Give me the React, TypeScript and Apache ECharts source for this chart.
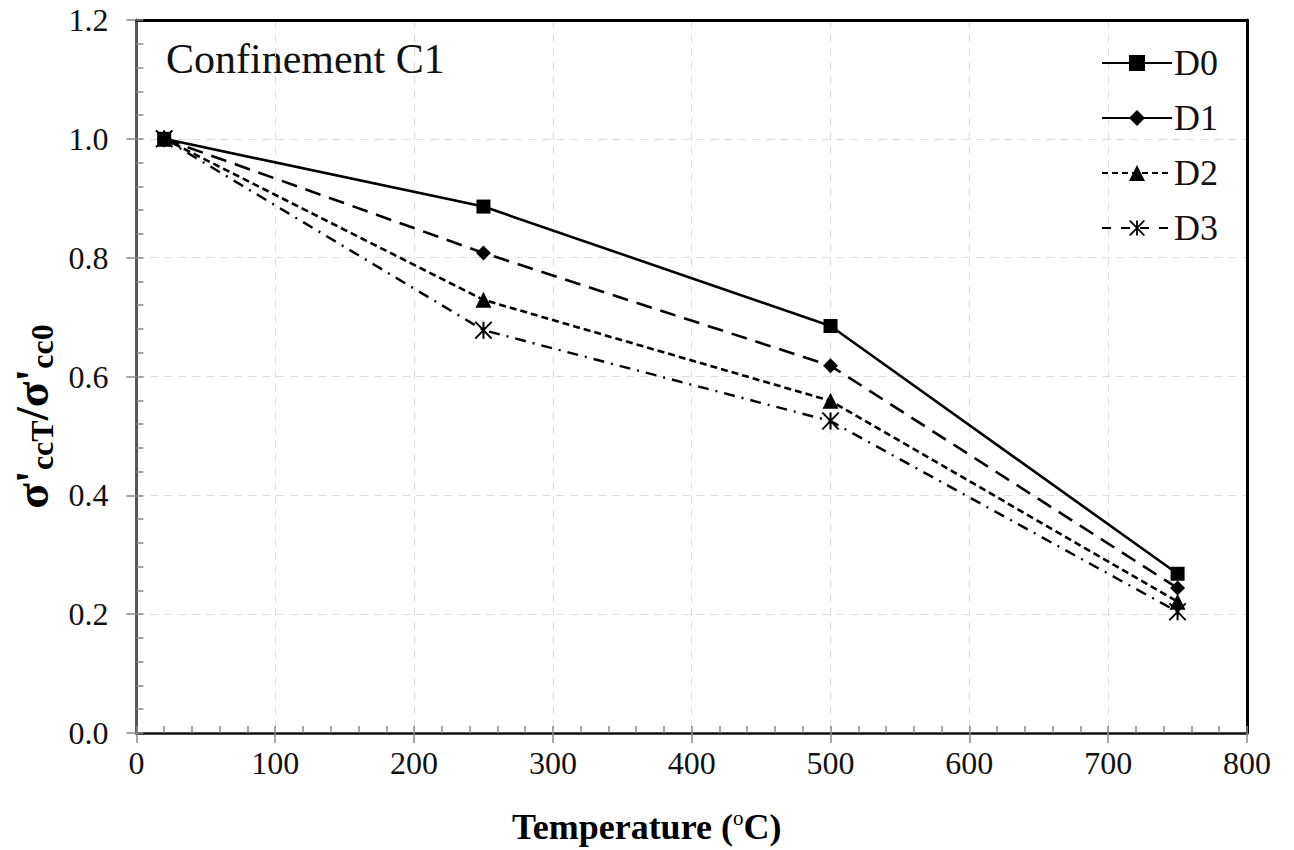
import React, { useEffect, useRef } from "react";
import * as echarts from "echarts";

const temps = [20, 250, 500, 750];
const d0 = [1.0, 0.886, 0.685, 0.268];
const d1 = [1.0, 0.808, 0.618, 0.244];
const d2 = [1.0, 0.729, 0.559, 0.221];
const d3 = [1.0, 0.678, 0.525, 0.204];
const seriesNames = ["D0", "D1", "D2", "D3"];
const xTicks = [0, 100, 200, 300, 400, 500, 600, 700, 800];
const yTicks = [0, 0.2, 0.4, 0.6, 0.8, 1.0, 1.2];
const chartTitle = "Confinement C1";

const FONT = "Liberation Serif";
const starPath =
  "path://M-0.5,-5L0.5,-5L0.5,5L-0.5,5Z M-3.61,-5.31L4.39,4.69L3.61,5.31L-4.39,-4.69Z M3.61,-5.31L4.39,-4.69L-3.61,5.31L-4.39,4.69Z";

function pairs(vals: number[]) {
  return temps.map((t, i) => [t, vals[i]]);
}

export default function App() {
  const ref = useRef<HTMLDivElement>(null);
  useEffect(() => {
    const chart = echarts.init(ref.current!, undefined, { renderer: "svg" });
    const lineStyles: any[] = [
      { type: "solid", width: 2.6 },
      { type: [16, 9], width: 2.6 },
      { type: [7, 4], width: 2.6 },
      { type: [11, 7, 2, 7], width: 2.4 },
    ];
    const symbols = ["rect", "diamond", "triangle", starPath];
    const symbolSizes = [14, 15, 16, 18];
    const datas = [d0, d1, d2, d3];
    const series: any[] = datas.map((d, i) => ({
      name: seriesNames[i],
      type: "line",
      data: pairs(d),
      symbol: symbols[i],
      symbolSize: symbolSizes[i],
      color: "#000",
      itemStyle: { color: "#000", borderWidth: 0 },
      lineStyle: { color: "#000", ...lineStyles[i] },
      z: 10 - i,
    }));
    const frameAxis = {
      type: "value",
      axisLine: { show: true, onZero: false, lineStyle: { color: "#000", width: 3 } },
      axisTick: { show: false },
      axisLabel: { show: false },
      splitLine: { show: false },
    };
    chart.setOption({
      animation: false,
      backgroundColor: "#fff",
      textStyle: { fontFamily: FONT },
      grid: { left: 133, top: 20, right: 47, bottom: 111 },
      legend: {
        orient: "vertical",
        left: 1096,
        top: 40,
        itemWidth: 70,
        itemHeight: 20,
        itemGap: 19,
        textStyle: { fontFamily: FONT, fontSize: 36, color: "#111", padding: [0, 0, 0, -3] },
        data: [
          { name: "D0", lineStyle: { type: "solid" } },
          { name: "D1", lineStyle: { type: "solid" } },
          { name: "D2", lineStyle: { type: [6, 4] } },
          { name: "D3", lineStyle: { type: [9, 10] } },
        ],
      },
      graphic: [
        {
          type: "text",
          left: 166,
          top: 38,
          style: { text: chartTitle, fontFamily: FONT, fontSize: 42, fill: "#111" },
        },
      ],
      xAxis: [
        {
          type: "value",
          min: 0,
          max: 800,
          interval: 100,
          name: "{t|Temperature (}{s|o}{t|C)}",
          nameLocation: "middle",
          nameGap: 74,
          nameTextStyle: {
            padding: [0, 90, 0, 0],
            rich: {
              t: { fontFamily: FONT, fontSize: 36, fontWeight: "bold", color: "#000", lineHeight: 40 },
              s: { fontFamily: FONT, fontSize: 21, color: "#000", lineHeight: 40, verticalAlign: "top", padding: [0, 0, 16, 0] },
            },
          },
          axisLine: { show: true, lineStyle: { color: "#111", width: 2.5 } },
          axisTick: { show: true, length: 10, lineStyle: { color: "#888", width: 1.5 } },
          axisLabel: {
            fontFamily: FONT,
            fontSize: 32,
            color: "#111",
            margin: 14,
            formatter: (v: number) => (xTicks.includes(v) ? String(v) : ""),
          },
          splitLine: { show: true, lineStyle: { color: "#ddd", type: [8, 6], width: 1 } },
        },
        {
          type: "value",
          min: 0,
          max: 800,
          interval: 20,
          position: "bottom",
          axisLine: { show: false },
          axisTick: { show: true, inside: true, length: 7, lineStyle: { color: "#888", width: 1.5 } },
          axisLabel: { show: false },
          splitLine: { show: false },
        },
        { ...frameAxis, min: 0, max: 800, position: "top" },
      ],
      yAxis: [
        {
          type: "value",
          min: 0,
          max: 1.2,
          interval: 0.2,
          name: "{a|σ'}{b|ccT}{a|/σ'}{b|cc0}",
          nameLocation: "middle",
          nameGap: 62,
          nameRotate: 90,
          nameTextStyle: {
            padding: [0, 80, 0, 0],
            rich: {
              a: { fontFamily: FONT, fontSize: 47, fontWeight: "bold", color: "#000", lineHeight: 52 },
              b: { fontFamily: FONT, fontSize: 32, fontWeight: "bold", color: "#000", lineHeight: 52, verticalAlign: "bottom", padding: [17, 0, 0, 0] },
            },
          },
          axisLine: { show: true, lineStyle: { color: "#555", width: 3 } },
          axisTick: { show: true, length: 10, lineStyle: { color: "#888", width: 1.5 } },
          axisLabel: {
            fontFamily: FONT,
            fontSize: 32,
            color: "#111",
            margin: 28,
            formatter: (v: number) => {
              const hit = yTicks.find((t) => Math.abs(t - v) < 1e-6);
              return hit === undefined ? "" : hit.toFixed(1);
            },
          },
          splitLine: { show: true, lineStyle: { color: "#ddd", type: [8, 6], width: 1 } },
        },
        {
          type: "value",
          min: 0,
          max: 1.2,
          interval: 0.04,
          position: "left",
          axisLine: { show: false },
          axisTick: { show: true, inside: true, length: 7, lineStyle: { color: "#888", width: 1.5 } },
          axisLabel: { show: false },
          splitLine: { show: false },
        },
        { ...frameAxis, min: 0, max: 1.2, position: "right" },
      ],
      series,
    });
    return () => chart.dispose();
  }, []);
  return (
    <div
      ref={ref}
      style={{ position: "fixed", left: 0, top: 0, width: 1294, height: 850, background: "#fff" }}
    />
  );
}
